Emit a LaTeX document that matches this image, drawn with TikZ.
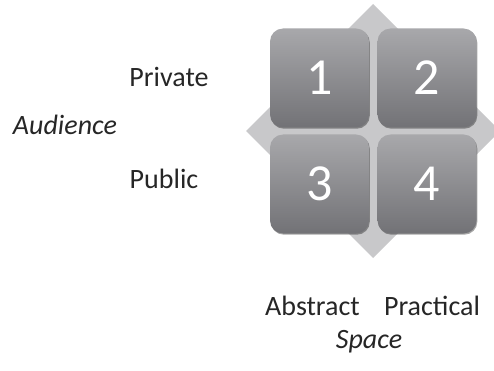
\documentclass[tikz,border=0pt]{standalone}
\usepackage{fontspec}
\setmainfont{Carlito}
\usetikzlibrary{shadows}
\definecolor{dia}{HTML}{C8C8CA}
\definecolor{boxtop}{HTML}{A8A8AB}
\definecolor{boxbot}{HTML}{727276}
\tikzset{
  quad/.style={rounded corners=13pt, minimum width=99pt, minimum height=99pt,
    inner sep=0pt, top color=boxtop, bottom color=boxbot, draw=none,
    text=white, font=\fontsize{52}{52}\selectfont,
    drop shadow={shadow xshift=0.8pt, shadow yshift=-1.2pt, opacity=0.35, fill=black}},
  lbl/.style={font=\fontsize{28}{28}\selectfont, text=black!85, inner sep=0pt, anchor=base},
  axis/.style={lbl, font=\fontsize{28}{28}\itshape\selectfont}
}
\begin{document}
\begin{tikzpicture}[x=1pt,y=-1pt]
\useasboundingbox (0,0) rectangle (494,371);
\begin{scope}
\clip (0,0) rectangle (494,371);
\fill[dia] (373,4) -- (500,131) -- (373,258) -- (246,131) -- cycle;
\end{scope}
\node[quad] (q1) at (319.5,78) {1};
\node[quad] (q2) at (427,78) {2};
\node[quad] (q3) at (319.5,184) {3};
\node[quad] (q4) at (427,184) {4};
\node[lbl] (priv) at (169,87) {Private};
\node[lbl] (pub) at (164,188) {Public};
\node[axis] (aud) at (65,135) {Audience};
\node[lbl] (abs) at (312.5,315) {Abstract};
\node[lbl] (prac) at (432,315) {Practical};
\node[axis] (space) at (369,348) {Space};
\end{tikzpicture}
\end{document}
